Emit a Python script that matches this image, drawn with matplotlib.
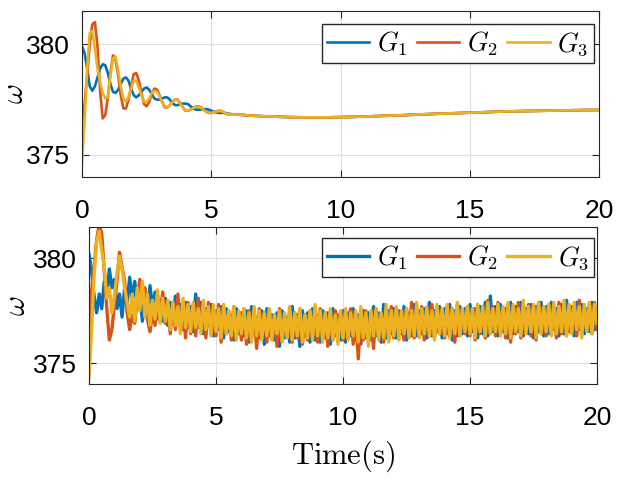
import numpy as np
import matplotlib
matplotlib.use('Agg')
import matplotlib.pyplot as plt

# tiempos de la figura de arriba: paso 0.1 s hasta 6 s, luego cada 0.5 s
t_fino = [round(0.1 * i, 1) for i in range(61)]
t_cola = [6.5 + 0.5 * i for i in range(28)]
t_arriba = t_fino + t_cola

# cola comun (las tres curvas se juntan despues de 6 s)
cola = [376.78, 376.75, 376.73, 376.71, 376.70, 376.70, 376.70, 376.71, 376.72,
        376.74, 376.76, 376.78, 376.80, 376.83, 376.85, 376.87, 376.89, 376.91,
        376.93, 376.95, 376.97, 376.98, 376.99, 377.00, 377.01, 377.02, 377.03, 377.03]

g1_arriba = [379.9, 379.6, 378.9, 378.1, 377.9, 378.1, 378.5, 378.9, 379.1, 379.05,
             378.7, 378.2, 377.85, 377.8, 377.95, 378.2, 378.45, 378.5, 378.35, 378.0,
             377.7, 377.6, 377.7, 377.85, 378.0, 378.05, 377.95, 377.75, 377.55, 377.5,
             377.5, 377.55, 377.6, 377.6, 377.5, 377.35, 377.25, 377.25, 377.3, 377.32,
             377.32, 377.3, 377.2, 377.1, 377.05, 377.04, 377.05, 377.07, 377.07, 377.05,
             377.0, 376.95, 376.92, 376.9, 376.9, 376.9, 376.88, 376.86, 376.84, 376.83,
             376.82] + cola

g2_arriba = [376.5, 377.3, 378.6, 380.0, 380.9, 381.0, 379.9, 377.9, 376.65, 376.8,
             377.6, 378.7, 379.5, 379.3, 378.6, 377.7, 377.1, 377.1, 377.5, 378.1,
             378.65, 378.7, 378.35, 377.8, 377.3, 377.2, 377.4, 377.75, 378.0, 377.95,
             377.7, 377.4, 377.15, 377.15, 377.25, 377.4, 377.5, 377.5, 377.35, 377.15,
             377.0, 377.0, 377.05, 377.12, 377.18, 377.2, 377.15, 377.05, 376.95, 376.9,
             376.9, 376.93, 376.97, 377.0, 376.98, 376.92, 376.85, 376.82, 376.82, 376.84,
             376.84] + cola

g3_arriba = [374.6, 376.5, 378.9, 380.5, 380.6, 379.8, 378.9, 378.3, 377.8, 377.55,
             377.6, 378.6, 379.35, 379.45, 378.8, 378.1, 377.55, 377.4, 377.6, 378.0,
             378.35, 378.35, 378.05, 377.7, 377.4, 377.4, 377.55, 377.8, 377.9, 377.85,
             377.65, 377.4, 377.2, 377.15, 377.25, 377.4, 377.48, 377.48, 377.33, 377.15,
             377.02, 377.0, 377.05, 377.12, 377.17, 377.18, 377.13, 377.04, 376.95, 376.9,
             376.9, 376.93, 376.96, 376.98, 376.97, 376.92, 376.86, 376.83, 376.82, 376.83,
             376.83] + cola

# figura de abajo (con ruido), paso 0.1 s de 0 a 20 s
t_abajo = [round(0.1 * i, 1) for i in range(201)]

g1_abajo = [380.2, 379.4, 378.2, 377.4, 378.3, 377.6, 378.9, 378.2, 379.5, 378.6,
            379.0, 377.6, 378.3, 377.2, 378.6, 377.8, 379.1, 378.0, 378.9, 377.7,
            378.2, 377.0, 378.1, 377.4, 378.7, 377.6, 378.4, 377.1, 378.0, 377.0,
            378.1, 376.8, 377.9, 376.9, 378.2, 377.0, 377.8, 376.6, 377.9, 376.7,
            377.7, 376.5, 378.3, 376.7, 377.9, 376.4, 377.6, 376.8, 377.8, 376.3,
            377.5, 376.6, 377.7, 376.2, 377.6, 376.5, 377.3, 376.1, 377.6, 376.4,
            377.4, 376.3, 377.5, 376.0, 377.7, 376.4, 377.2, 376.2, 377.5, 375.9,
            377.6, 376.3, 377.3, 376.1, 377.4, 375.8, 377.5, 376.2, 377.2, 376.0,
            377.7, 376.2, 377.3, 375.8, 377.5, 376.3, 377.4, 376.0, 377.6, 376.1,
            377.3, 376.0, 377.5, 376.2, 377.4, 375.9, 377.6, 376.3, 377.3, 376.1,
            377.5, 376.0, 377.4, 376.3, 377.6, 376.1, 377.3, 375.9, 377.5, 376.2,
            377.4, 376.1, 377.7, 376.3, 377.4, 376.0, 377.8, 376.2, 377.5, 376.4,
            377.6, 376.2, 377.5, 376.4, 377.7, 376.1, 377.4, 376.3, 377.8, 376.3,
            377.5, 376.4, 377.6, 376.2, 377.9, 376.3, 377.5, 376.5, 377.7, 376.2,
            377.6, 376.4, 377.8, 376.1, 377.5, 376.3, 377.7, 376.4, 377.6, 376.3,
            377.8, 376.5, 377.6, 376.2, 377.7, 376.4, 377.9, 376.3, 378.2, 376.5,
            377.7, 376.3, 377.8, 376.5, 377.6, 376.2, 377.9, 376.4, 377.7, 376.5,
            377.9, 376.3, 377.6, 376.4, 377.8, 376.2, 377.7, 376.5, 377.9, 376.3,
            377.7, 376.4, 377.9, 376.6, 377.6, 376.3, 377.8, 376.4, 378.0, 376.5,
            377.7, 376.3, 377.9, 376.6, 377.8, 376.4, 377.6, 376.5, 377.9, 376.6,
            377.2]

g2_abajo = [376.7, 378.4, 379.6, 380.9, 381.6, 381.2, 379.4, 377.6, 376.1, 376.6,
            377.8, 378.9, 380.3, 379.6, 378.9, 377.4, 376.6, 377.3, 376.9, 378.1,
            379.0, 378.2, 378.6, 377.1, 376.5, 377.4, 376.8, 378.2, 377.3, 378.4,
            376.9, 377.8, 376.4, 377.9, 376.6, 378.3, 376.5, 377.7, 376.2, 377.9,
            376.4, 377.8, 376.3, 378.1, 376.6, 377.6, 376.2, 377.9, 376.4, 377.5,
            376.3, 377.8, 376.0, 377.6, 376.4, 377.5, 376.1, 377.7, 376.3, 377.4,
            376.1, 377.6, 375.9, 377.5, 376.3, 377.3, 375.7, 377.6, 376.2, 377.4,
            376.0, 377.5, 376.2, 377.3, 375.8, 377.6, 376.1, 377.2, 376.3, 377.5,
            376.0, 377.4, 376.2, 377.6, 375.9, 377.3, 376.1, 377.5, 376.3, 377.2,
            376.0, 377.6, 376.2, 377.4, 375.8, 377.3, 376.1, 377.5, 376.3, 377.4,
            376.1, 377.3, 376.2, 377.6, 375.9, 377.4, 375.2, 377.3, 376.1, 377.5,
            376.2, 377.4, 375.7, 377.6, 376.3, 377.3, 376.0, 377.5, 376.3, 377.7,
            376.2, 377.5, 376.4, 377.3, 376.1, 377.6, 376.3, 377.9, 376.2, 377.5,
            376.4, 377.7, 376.1, 377.5, 376.3, 377.8, 376.2, 377.6, 376.4, 377.5,
            376.2, 377.7, 376.5, 377.6, 376.0, 377.8, 376.3, 377.5, 376.4, 377.7,
            376.3, 377.6, 376.1, 377.8, 376.4, 377.5, 376.2, 378.0, 376.4, 377.7,
            376.3, 377.9, 376.5, 377.6, 376.2, 377.8, 376.0, 377.7, 376.4, 377.9,
            376.2, 377.6, 376.5, 377.8, 376.3, 377.7, 376.1, 377.9, 376.4, 377.6,
            376.3, 377.8, 376.5, 377.6, 376.2, 377.9, 376.4, 377.7, 376.3, 377.8,
            376.5, 377.7, 376.3, 378.0, 376.4, 377.6, 376.6, 377.8, 376.4, 377.9,
            376.6]

g3_abajo = [374.3, 376.6, 379.2, 380.8, 381.3, 380.4, 379.6, 378.1, 378.6, 377.4,
            378.2, 379.3, 380.1, 379.5, 378.6, 377.9, 377.2, 378.3, 377.0, 378.6,
            377.5, 378.9, 377.2, 378.3, 376.8, 378.0, 377.1, 378.5, 376.9, 378.1,
            377.0, 378.0, 376.6, 377.9, 376.8, 377.7, 376.4, 378.1, 376.7, 377.8,
            376.5, 377.9, 376.7, 377.6, 376.4, 378.0, 376.6, 377.7, 376.3, 377.8,
            376.5, 377.6, 376.2, 377.8, 376.4, 377.5, 376.3, 377.7, 376.1, 377.5,
            376.4, 377.6, 376.2, 377.4, 376.0, 377.7, 376.3, 377.5, 376.1, 377.4,
            376.3, 377.6, 376.1, 377.3, 376.4, 377.5, 376.0, 377.4, 376.2, 377.7,
            376.1, 377.4, 376.3, 377.6, 376.0, 377.3, 376.2, 377.5, 376.1, 377.8,
            376.3, 377.5, 376.0, 377.4, 376.2, 377.6, 376.1, 377.3, 375.9, 377.5,
            376.2, 377.6, 376.1, 377.4, 376.3, 377.5, 376.0, 377.7, 376.2, 377.4,
            375.8, 377.5, 376.3, 377.6, 376.1, 377.4, 376.2, 377.8, 376.0, 377.5,
            376.3, 377.7, 376.1, 377.5, 376.4, 377.6, 376.2, 377.5, 376.3, 377.9,
            376.2, 377.6, 376.4, 377.7, 376.3, 377.5, 376.1, 377.8, 376.4, 377.6,
            376.3, 377.8, 376.2, 377.6, 376.4, 377.9, 376.3, 377.6, 376.5, 377.7,
            376.4, 377.6, 376.2, 377.8, 376.5, 377.7, 376.3, 377.9, 376.4, 377.6,
            376.5, 377.8, 376.3, 377.7, 376.4, 377.9, 376.2, 377.8, 376.5, 377.6,
            376.3, 378.0, 376.4, 377.7, 376.5, 377.8, 376.2, 377.9, 376.4, 377.7,
            376.5, 377.8, 376.3, 377.9, 376.4, 377.7, 376.5, 378.0, 376.3, 377.8,
            376.4, 377.9, 376.6, 377.7, 376.2, 377.8, 376.5, 377.9, 376.4, 377.8,
            376.9]

etiquetas = [r'$G_1$', r'$G_2$', r'$G_3$']
colores = ['#0072BD', '#D95319', '#EDB120']

plt.rcParams['font.family'] = ['Liberation Sans', 'DejaVu Sans']
plt.rcParams['mathtext.fontset'] = 'cm'

fig = plt.figure(figsize=(6.23, 4.8), dpi=100)
ax1 = fig.add_axes([0.1316, 0.631, 0.8299, 0.346])
ax2 = fig.add_axes([0.1429, 0.200, 0.8154, 0.327])


def estilo(ax, xlab):
    ax.set_xlim(0, 20)
    ax.set_ylim(374, 381.5)
    ax.set_xticks([0, 5, 10, 15, 20])
    ax.set_yticks([375, 380])
    ax.grid(True, color='#dfdfdf', linewidth=0.8)
    ax.set_axisbelow(True)
    ax.tick_params(direction='in', top=True, right=True, length=5,
                   width=0.8, color='#262626', labelsize=19)
    ax.tick_params(axis='x', pad=16)
    ax.tick_params(axis='y', pad=9)
    for s in ax.spines.values():
        s.set_color('#262626')
        s.set_linewidth(0.8)
    ax.set_ylabel(r'$\omega$', fontsize=22)
    ax.yaxis.set_label_coords(xlab, 0.5)


def leyenda(ax, pos):
    ax.legend(loc='upper right', bbox_to_anchor=pos, borderaxespad=0,
              ncol=3, fontsize=19, handlelength=1.6, columnspacing=0.35,
              handletextpad=0.3, fancybox=False, edgecolor='#262626',
              framealpha=1, borderpad=0.2)


# arriba: respuesta sin ruido
for y, c, e in zip([g1_arriba, g2_arriba, g3_arriba], colores, etiquetas):
    ax1.plot(t_arriba, y, color=c, linewidth=1.9, label=e)
estilo(ax1, -0.100)
leyenda(ax1, (0.990, 0.922))

# abajo: respuesta con ruido
for y, c, e in zip([g1_abajo, g2_abajo, g3_abajo], colores, etiquetas):
    ax2.plot(t_abajo, y, color=c, linewidth=2.4, label=e)
estilo(ax2, -0.113)
leyenda(ax2, (0.994, 0.93))
ax2.set_xlabel(r'$\mathrm{Time(s)}$', fontsize=22, labelpad=6)

fig.savefig('out.png', dpi=100)
